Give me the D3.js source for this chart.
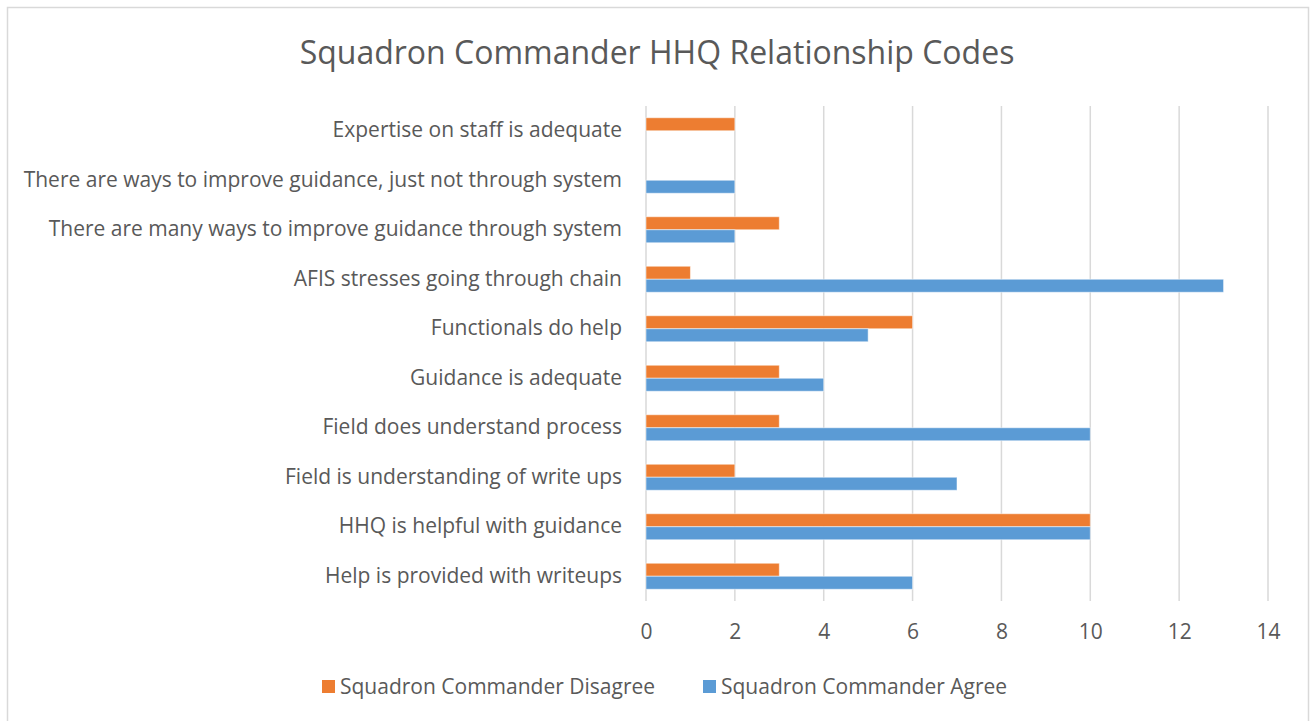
<!DOCTYPE html>
<html>
<head>
<meta charset="utf-8">
<script src="https://cdn.jsdelivr.net/npm/d3@7"></script>
<style>
  body { margin: 0; background: #fff; }
  text { font-family: "Open Sans", sans-serif; fill: #595959; }
</style>
</head>
<body>
<svg id="chart" width="1312" height="721"></svg>
<script>
var categories = [
  "Expertise on staff is adequate",
  "There are ways to improve guidance, just not through system",
  "There are many ways to improve guidance through system",
  "AFIS stresses going through chain",
  "Functionals do help",
  "Guidance is adequate",
  "Field does understand process",
  "Field is understanding of write ups",
  "HHQ is helpful with guidance",
  "Help is provided with writeups"
];
var disagree = [2, 0, 3, 1, 6, 3, 3, 2, 10, 3];
var agree = [0, 2, 2, 13, 5, 4, 10, 7, 10, 6];
var xTicks = [0, 2, 4, 6, 8, 10, 12, 14];
var seriesNames = ["Squadron Commander Disagree", "Squadron Commander Agree"];
var seriesColors = ["#ED7D31", "#5B9BD5"];

var margin = {top: 106, left: 646, right: 44, bottom: 120},
    width = 1312 - margin.left - margin.right,
    height = 721 - margin.top - margin.bottom;

var svg = d3.select("#chart");

// outer frame
svg.append("rect")
  .attr("x", 7.5).attr("y", 7.5)
  .attr("width", 1301).attr("height", 720)
  .attr("fill", "none")
  .attr("stroke", "#D9D9D9")
  .attr("stroke-width", 1.5);

svg.append("text")
  .attr("x", 657)
  .attr("y", 64)
  .attr("text-anchor", "middle")
  .attr("font-size", "32px")
  .text("Squadron Commander HHQ Relationship Codes");

var g = svg.append("g")
  .attr("transform", "translate(" + margin.left + "," + margin.top + ")");

var x = d3.scaleLinear().domain([0, 14]).range([0, 622]);
var y = d3.scaleBand().domain(categories).range([0, 495]);
var inner = d3.scaleBand().domain([0, 1]).range([y.bandwidth() / 2 - 13, y.bandwidth() / 2 + 13]);

// gridlines
g.selectAll(".grid")
  .data(xTicks)
  .enter().append("line")
  .attr("x1", function(d){ return x(d); })
  .attr("x2", function(d){ return x(d); })
  .attr("y1", 0)
  .attr("y2", 495)
  .attr("stroke", "#D9D9D9")
  .attr("stroke-width", 1.5);

var rows = categories.map(function(c, i){ return {cat: c, vals: [disagree[i], agree[i]]}; });

var row = g.selectAll(".row")
  .data(rows)
  .enter().append("g")
  .attr("transform", function(d){ return "translate(0," + y(d.cat) + ")"; });

row.selectAll("rect")
  .data(function(d){ return d.vals.map(function(v, k){ return {k: k, v: v}; }); })
  .enter().append("rect")
  .filter(function(d){ return d.v > 0; })
  .attr("x", x(0))
  .attr("y", function(d){ return inner(d.k); })
  .attr("width", function(d){ return x(d.v) - x(0); })
  .attr("height", inner.bandwidth())
  .attr("fill", function(d){ return seriesColors[d.k]; })
  .attr("stroke", "#fff")
  .attr("stroke-opacity", 0.5)
  .attr("stroke-width", 1);

// category labels
var yAxis = d3.axisLeft(y).tickSize(0).tickPadding(24);
g.append("g")
  .call(yAxis)
  .call(function(s){ s.select(".domain").remove(); })
  .selectAll("text")
  .attr("font-size", "21px")
  .style("font-family", "Open Sans")
  .attr("fill", "#595959");

var xAxis = d3.axisBottom(x).tickValues(xTicks).tickSize(0).tickPadding(23);
g.append("g")
  .attr("transform", "translate(0,495)")
  .call(xAxis)
  .call(function(s){ s.select(".domain").remove(); })
  .selectAll("text")
  .attr("font-size", "21px")
  .style("font-family", "Open Sans")
  .attr("fill", "#595959");

// legend
var legendX = [322, 703];
var legend = svg.selectAll(".legend")
  .data(seriesNames)
  .enter().append("g")
  .attr("transform", function(d, i){ return "translate(" + legendX[i] + ",680)"; });

legend.append("rect")
  .attr("width", 13).attr("height", 13)
  .attr("fill", function(d, i){ return seriesColors[i]; });

legend.append("text")
  .attr("x", 18)
  .attr("y", 14)
  .attr("font-size", "21px")
  .text(function(d){ return d; });
</script>
</body>
</html>
